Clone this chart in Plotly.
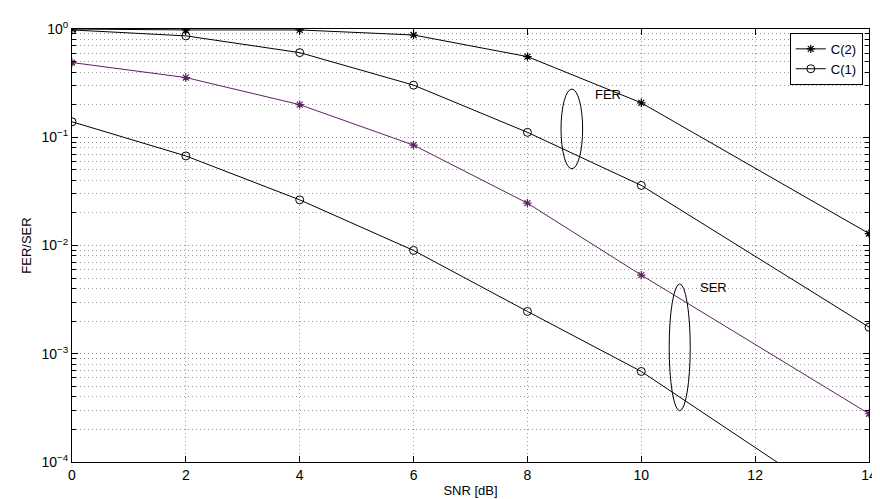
import plotly.graph_objects as go

snr = [0, 2, 4, 6, 8, 10, 14]
fer_c2 = [1.0, 0.98, 0.98, 0.88, 0.556, 0.208, 0.0129]
fer_c1 = [0.98, 0.864, 0.605, 0.303, 0.111, 0.0359, 0.00176]
ser_c2 = [0.49, 0.356, 0.20, 0.0846, 0.0246, 0.00533, 0.000279]
ser_c1 = [0.139, 0.0672, 0.0264, 0.0090, 0.00246, 0.000686, 0.000027]

xticks = [0, 2, 4, 6, 8, 10, 12, 14]
yticks = [1e-4, 1e-3, 1e-2, 1e-1, 1e0]
yticktext = ["10<sup>−4</sup>", "10<sup>−3</sup>", "10<sup>−2</sup>", "10<sup>−1</sup>", "10<sup>0</sup>"]
yminor = [m * 10.0 ** e for e in range(-4, 0) for m in range(2, 10)]

BLACK = "#000000"
PURPLE = "#5e2163"
FONT = "Liberation Sans, Arial, sans-serif"

fig = go.Figure()
fig.add_trace(go.Scatter(x=snr, y=fer_c2, mode="lines+markers", name="C(2)",
                         line=dict(color=BLACK, width=1),
                         marker=dict(symbol="asterisk-open", size=7, color=BLACK, line=dict(width=1.2, color=BLACK))))
fig.add_trace(go.Scatter(x=snr, y=fer_c1, mode="lines+markers", name="C(1)",
                         line=dict(color=BLACK, width=1),
                         marker=dict(symbol="circle-open", size=8, color=BLACK, line=dict(width=1, color=BLACK))))
fig.add_trace(go.Scatter(x=snr, y=ser_c2, mode="lines+markers", name="C(2) SER", showlegend=False,
                         line=dict(color=PURPLE, width=1),
                         marker=dict(symbol="asterisk-open", size=7, color=PURPLE, line=dict(width=1.2, color=PURPLE))))
fig.add_trace(go.Scatter(x=snr, y=ser_c1, mode="lines+markers", name="C(1) SER", showlegend=False,
                         line=dict(color=BLACK, width=1),
                         marker=dict(symbol="circle-open", size=8, color=BLACK, line=dict(width=1, color=BLACK))))

# ellipses grouping the curves
fig.add_shape(type="circle", xref="x", yref="y", x0=8.59, x1=8.97, y0=10 ** -1.291, y1=10 ** -0.555,
              line=dict(color=BLACK, width=1))
fig.add_shape(type="circle", xref="x", yref="y", x0=10.49, x1=10.86, y0=10 ** -3.527, y1=10 ** -2.355,
              line=dict(color=BLACK, width=1))
fig.add_annotation(x=9.41, y=-0.609, xref="x", yref="y", text="FER", showarrow=False,
                   font=dict(family=FONT, size=13, color=BLACK))
fig.add_annotation(x=11.27, y=-2.39, xref="x", yref="y", text="SER", showarrow=False,
                   font=dict(family=FONT, size=13, color=BLACK))

grid = "#9a9a9a"
gdash = "1px,3px"
fig.update_layout(
    width=880, height=499,
    margin=dict(l=64, r=11, t=15, b=44),
    paper_bgcolor="white", plot_bgcolor="white",
    font=dict(family=FONT, size=13, color=BLACK),
    showlegend=True,
    legend=dict(x=0.9006, y=0.991, xanchor="left", yanchor="top",
                bgcolor="white", bordercolor=BLACK, borderwidth=1,
                font=dict(family=FONT, size=13, color=BLACK),
                tracegroupgap=0, itemwidth=30),
    xaxis=dict(range=[0, 14], tickvals=xticks, ticks="inside", ticklen=6, tickcolor=BLACK,
               tickfont=dict(size=14),
               showline=True, linecolor=BLACK, linewidth=1, mirror="ticks",
               showgrid=True, gridcolor=grid, griddash=gdash, gridwidth=1, zeroline=False,
               title=dict(text="SNR [dB]", standoff=4, font=dict(size=13))),
    yaxis=dict(type="log", range=[-4, 0], tickvals=yticks, ticktext=yticktext,
               ticks="inside", ticklen=6, tickcolor=BLACK, tickfont=dict(size=14),
               showline=True, linecolor=BLACK, linewidth=1, mirror="ticks",
               showgrid=True, gridcolor=grid, griddash=gdash, gridwidth=1, zeroline=False,
               minor=dict(tickvals=yminor, ticks="inside", ticklen=4, tickcolor=BLACK,
                          showgrid=True, gridcolor=grid, griddash=gdash, gridwidth=1),
               title=dict(text="FER/SER", standoff=6, font=dict(size=13))),
)

fig.write_html("out.html")
